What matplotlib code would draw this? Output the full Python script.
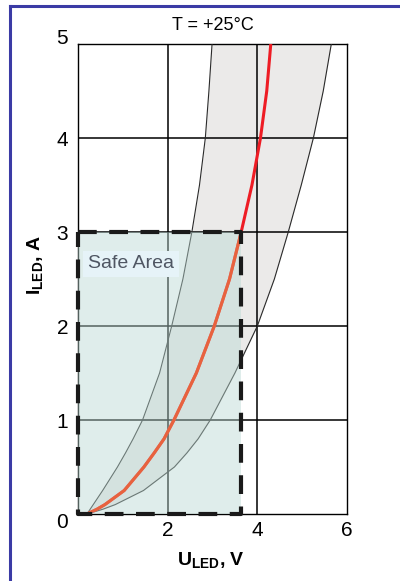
import matplotlib
matplotlib.use("Agg")
import matplotlib.pyplot as plt
from matplotlib.patches import Rectangle
from matplotlib.lines import Line2D
from matplotlib.transforms import offset_copy

plt.rcParams['font.family'] = ['Liberation Sans', 'DejaVu Sans']
plt.rcParams['mathtext.fontset'] = 'custom'
plt.rcParams['mathtext.rm'] = 'Liberation Sans'
plt.rcParams['mathtext.bf'] = 'Liberation Sans:bold'

# Forward current levels (A) and the spread of forward voltage (V)
current = [0, 0.05, 0.1, 0.25, 0.5, 0.65, 0.8, 1.0, 1.5, 2.0, 2.5, 3.0, 3.5, 4.0, 4.5, 5.0]
u_min = [0.20, 0.27, 0.34, 0.55, 0.88, 1.06, 1.23, 1.44, 1.82, 2.09, 2.34, 2.54, 2.71, 2.84, 2.92, 2.99]
u_max = [0.20, 0.55, 0.83, 1.46, 2.15, 2.43, 2.68, 2.95, 3.50, 4.00, 4.38, 4.69, 4.98, 5.25, 5.47, 5.65]

# Typical characteristic
typ_current = [0, 0, 0.05, 0.1, 0.25, 0.5, 0.65, 0.8, 1.0, 1.5, 2.0, 2.5, 3.0, 3.5, 4.0, 4.5, 5.0]
typ_u = [0, 0.20, 0.42, 0.60, 1.03, 1.47, 1.70, 1.92, 2.14, 2.64, 3.04, 3.38, 3.64, 3.88, 4.07, 4.21, 4.30]

# Safe operating area limits
safe_u = 3.64
safe_i = 3.0

x_ticks = [2, 4, 6]
y_ticks = [0, 1, 2, 3, 4, 5]

W, H = 400, 581
fig = plt.figure(figsize=(W / 100, H / 100), dpi=100)
ax = fig.add_axes([78 / W, 1 - 514 / H, (347 - 78) / W, (514 - 44) / H])
ax.set_xlim(0, 6)
ax.set_ylim(0, 5)

# Tolerance band
ax.fill_betweenx(current, u_min, u_max, color='#ebeae9', lw=0, zorder=1)

# Grid
for xv in [2, 4]:
    ax.axvline(xv, color='black', lw=1.1, zorder=2)
for yv in [1, 2, 3, 4]:
    ax.axhline(yv, color='black', lw=1.1, zorder=2)

# Band boundaries
ax.plot(u_min, current, color='#2a2a2a', lw=0.8, zorder=3)
ax.plot(u_max, current, color='#2a2a2a', lw=0.8, zorder=3)
ax.plot(typ_u, typ_current, color='#ee1c24', lw=2.2, zorder=3, solid_capstyle='butt')

# Safe area fill
safe = Rectangle((0, 0), safe_u, safe_i, facecolor=(186 / 255, 217 / 255, 211 / 255),
                 alpha=0.45, edgecolor='none', zorder=4)
ax.add_patch(safe)

# Typical curve inside the safe area
clip = Rectangle((0.05, 0.02), safe_u - 0.05, safe_i - 0.02, transform=ax.transData)
inner, = ax.plot(typ_u, typ_current, color='#e8623e', lw=2.2, zorder=5)
inner.set_clip_path(clip)

# Dashed border of the safe area
ax.plot([0, safe_u, safe_u, 0, 0], [safe_i, safe_i, 0, 0, safe_i], color='#1a1a1a',
        lw=3.0, dashes=(4.5, 3.0), zorder=6, clip_on=False, solid_capstyle='butt')

ax.text(0.22, 2.66, 'Safe Area', fontsize=14, color='#4f5663', va='center', ha='left',
        zorder=7, bbox=dict(facecolor='#e6f3f8', edgecolor='none', pad=3.5))

for sp in ax.spines.values():
    sp.set_color('black')
    sp.set_linewidth(1.0)
    sp.set_zorder(2.5)

ax.set_xticks(x_ticks)
ax.set_yticks(y_ticks)
ax.tick_params(length=0, labelsize=15)
ax.tick_params(axis='y', pad=7)
ax.tick_params(axis='x', pad=5)
ylabels = ax.get_yticklabels()
ylabels[0].set_transform(offset_copy(ylabels[0].get_transform(), fig=fig, x=0, y=-6, units='dots'))
ylabels[-1].set_transform(offset_copy(ylabels[-1].get_transform(), fig=fig, x=0, y=7, units='dots'))

ax.text(0.5, 1 + 18 / 470, 'T = +25°C', transform=ax.transAxes, fontsize=13,
        ha='center', va='center')

fig.text(211 / W, 1 - 566 / H, r'$\mathbf{U}_{\mathbf{LED}}$, V', fontsize=14,
         fontweight='bold', ha='center', va='baseline')
fig.text(36 / W, 1 - 265 / H, r'$\mathbf{I}_{\mathbf{LED}}$, A', fontsize=14,
         fontweight='bold', ha='center', va='center', rotation=90)

# Blue frame
frame_color = '#3b3ba5'
fig.add_artist(Line2D([9.5 / W, 9.5 / W], [0, 1 - 6 / H], transform=fig.transFigure,
                      color=frame_color, lw=2.2))
fig.add_artist(Line2D([9.5 / W, 1], [1 - 6 / H, 1 - 6 / H], transform=fig.transFigure,
                      color=frame_color, lw=2.2))

fig.savefig('out.png', dpi=100)
